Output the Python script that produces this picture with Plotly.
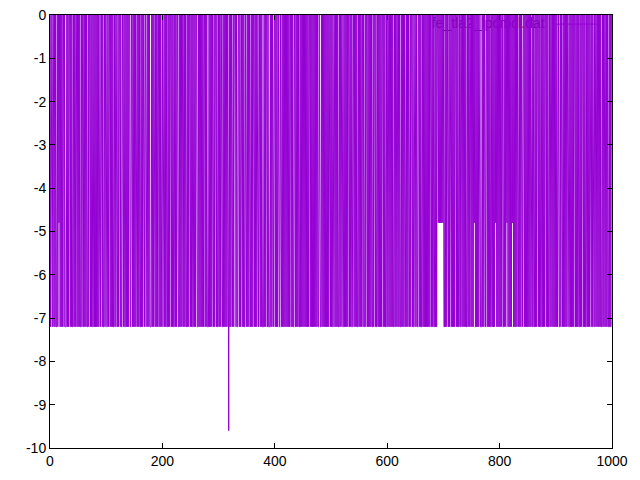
import plotly.graph_objects as go

# Level codes: '0' -> 0, '7' -> -7.2, '4' -> -4.8, '9' -> -9.6
level_map = {"0": 0.0, "7": -7.2, "4": -4.8, "9": -9.6}

code_rows = [
    "0707700707 0770704070 7070070777 0707007070 7707070070",
    "7070770700 7070707707 0070707707 0707070740 7007077070",
    "0770700707 0707707007 7070070770 0707707070 7007700707",
    "0707007070 7707070770 0700707077 7070707707 0700707070",
    "0700707077 0707007070 7707070077 0707070070 7077070700",
    "7070770707 0077070707 0707007070 7770707070 7707007077",
    "0707007707 0707070790 7070770700 0707700707 0070707707",
    "7070707707 0700707070 0700707077 7070700707 7707070770",
    "0707070077 0770707070 7070707007 0707700707 0707707070",
    "7070707070 7007070707 0707070770 7770707070 7070707007",
    "0707700707 0707707070 0770707070 7007070770 0707070770",
    "7070700707 7070070707 0707707007 0770707070 7007070770",
    "7007070707 0770707007 0707707070 7077070707 7070070770",
    "0707700707 0770707070 7070707007 0707707070 0404040404",
    "0770707077 0707707070 7007070770 7007070707 0770707007",
    "0707040707 0707007770 7070770070 7070770707 0704070707",
    "0707007707 0704070707 0704070707 0707707070 7700707070",
    "7070707007 0770707007 0707707070 7007070770 7007070707",
    "0707007707 0770707070 7007707070 7070070707 0770707007",
    "0707707070 7077070770 7007070707 0770707007 0707707070",
]

codes = "".join(r.replace(" ", "") for r in code_rows)
y_values = [level_map[c] for c in codes]
x_values = list(range(len(y_values)))

x_ticks = [0, 200, 400, 600, 800, 1000]
y_ticks = [0, -1, -2, -3, -4, -5, -6, -7, -8, -9, -10]
legend_label = "fe_tla2_lpcmcl.dat"

COLOR = "#9400D3"
FONT = "Liberation Sans"

fig = go.Figure()

# gnuplot key text: drawn first so the data line covers it, as in the reference
fig.add_trace(go.Scatter(
    x=[880], y=[-0.21], mode="text", text=[legend_label],
    textposition="middle left",
    textfont=dict(family=FONT, size=14, color="black"),
    showlegend=False, hoverinfo="skip", cliponaxis=False,
))

fig.add_trace(go.Scatter(
    x=x_values, y=y_values, mode="lines",
    line=dict(color=COLOR, width=1),
    name=legend_label, showlegend=False,
))

axis_common = dict(
    showline=True, linecolor="black", linewidth=1, mirror="allticks",
    ticks="inside", ticklen=5, tickcolor="black", tickwidth=1,
    showgrid=False, zeroline=False, automargin=False,
    tickfont=dict(family=FONT, size=14, color="black"),
)

fig.update_layout(
    width=640, height=480,
    margin=dict(l=50, r=28, t=15, b=32, autoexpand=False),
    paper_bgcolor="white", plot_bgcolor="white",
    xaxis=dict(range=[0, 1000], tickvals=x_ticks,
               ticktext=[str(v) for v in x_ticks], **axis_common),
    yaxis=dict(range=[-10, 0], tickvals=y_ticks,
               ticktext=[str(v) for v in y_ticks], **axis_common),
)

# key line sample (also hidden under the data, like the reference)
fig.add_shape(
    type="line", xref="paper", yref="paper", layer="below",
    x0=0.898, x1=0.978, y0=0.979, y1=0.979,
    line=dict(color=COLOR, width=1),
)

post = "document.body.style.margin='0';"

fig.write_html("out.html", post_script=post,
               config={"displayModeBar": False})
